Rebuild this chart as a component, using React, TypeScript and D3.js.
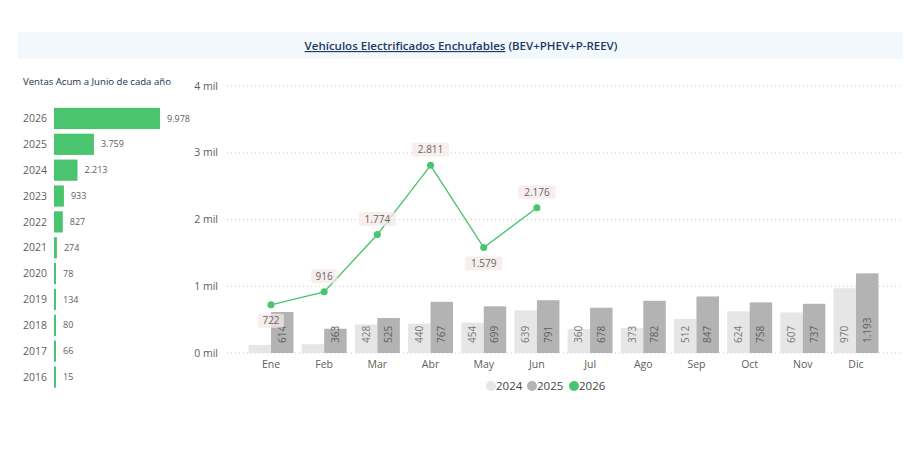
import React, { useEffect, useRef } from 'react';
import * as d3 from 'd3';

const months = ['Ene', 'Feb', 'Mar', 'Abr', 'May', 'Jun', 'Jul', 'Ago', 'Sep', 'Oct', 'Nov', 'Dic'];
const sales2024 = [121, 131, 428, 440, 454, 639, 360, 373, 512, 624, 607, 970];
const sales2025 = [614, 363, 525, 767, 699, 791, 678, 782, 847, 758, 737, 1193];
const sales2026 = [722, 916, 1774, 2811, 1579, 2176];
const yTicks = [0, 1000, 2000, 3000, 4000];

const accYears = ['2026', '2025', '2024', '2023', '2022', '2021', '2020', '2019', '2018', '2017', '2016'];
const accSales = [9978, 3759, 2213, 933, 827, 274, 78, 134, 80, 66, 15];

const legendItems = ['2024', '2025', '2026'];
const colors = ['#e6e6e6', '#b3b3b3', '#4ac46e'];

const FONT = '"Open Sans", "Noto Sans", sans-serif';

const App: React.FC = () => {
  const svgRef = useRef<SVGSVGElement>(null);

  useEffect(() => {
    if (!svgRef.current) return;
    const svg = d3.select(svgRef.current);
    svg.selectAll('*').remove();

    const es = d3.formatLocale({ decimal: ',', thousands: '.', grouping: [3], currency: ['', '€'] });
    const fmt = es.format(',d');

    // title band
    svg.append('rect')
      .attr('x', 18).attr('y', 32).attr('width', 885).attr('height', 27)
      .attr('fill', '#f3f8fc');
    const title = svg.append('text')
      .attr('x', 461).attr('y', 50)
      .attr('text-anchor', 'middle')
      .attr('font-family', FONT)
      .attr('font-size', 11.5)
      .attr('font-weight', 600)
      .attr('fill', '#1c3a66');
    title.append('tspan').attr('text-decoration', 'underline').text('Vehículos Electrificados Enchufables');
    title.append('tspan').text(' (BEV+PHEV+P-REEV)');

    // left chart: accumulated sales
    svg.append('text')
      .attr('x', 23).attr('y', 85)
      .attr('font-family', FONT).attr('font-size', 9.6)
      .attr('font-weight', 500)
      .attr('fill', '#1a3150')
      .text('Ventas Acum a Junio de cada año');

    const yAcc = d3.scaleBand<string>().domain(accYears).range([105.5, 390]).paddingInner(0.18).paddingOuter(0.09);
    const xAcc = d3.scaleLinear().domain([0, d3.max(accSales) || 0]).range([54, 160]);

    const left = svg.append('g');
    left.selectAll('rect')
      .data(accYears)
      .enter()
      .append('rect')
      .attr('x', xAcc(0))
      .attr('y', d => yAcc(d) || 0)
      .attr('height', yAcc.bandwidth())
      .attr('width', (_d, i) => Math.max(xAcc(accSales[i]) - xAcc(0), 2))
      .attr('fill', colors[2]);
    left.selectAll('text.yr')
      .data(accYears)
      .enter()
      .append('text')
      .attr('class', 'yr')
      .attr('x', 47)
      .attr('y', d => (yAcc(d) || 0) + yAcc.bandwidth() / 2)
      .attr('dy', '0.35em')
      .attr('text-anchor', 'end')
      .attr('font-family', FONT).attr('font-size', 10.5)
      .attr('fill', '#605e5c')
      .text(d => d);
    left.selectAll('text.val')
      .data(accYears)
      .enter()
      .append('text')
      .attr('class', 'val')
      .attr('x', (_d, i) => xAcc(0) + Math.max(xAcc(accSales[i]) - xAcc(0), 2) + 7)
      .attr('y', d => (yAcc(d) || 0) + yAcc.bandwidth() / 2)
      .attr('dy', '0.35em')
      .attr('font-family', FONT).attr('font-size', 9)
      .attr('fill', '#605e5c')
      .text((_d, i) => fmt(accSales[i]));

    // main chart
    const x = d3.scaleBand<string>().domain(months).range([244.4, 882.6]).paddingInner(0.154).paddingOuter(0.077);
    const xSub = d3.scaleBand<string>().domain(['2024', '2025']).range([0, x.bandwidth()]);
    const y = d3.scaleLinear().domain([0, 4000]).range([353, 86]);

    const main = svg.append('g');
    main.selectAll('line.grid')
      .data(yTicks)
      .enter()
      .append('line')
      .attr('class', 'grid')
      .attr('x1', 227).attr('x2', 903)
      .attr('y1', d => y(d)).attr('y2', d => y(d))
      .attr('stroke', '#c8c8c8')
      .attr('stroke-width', 1)
      .attr('stroke-dasharray', '1,3');
    main.selectAll('text.ytick')
      .data(yTicks)
      .enter()
      .append('text')
      .attr('class', 'ytick')
      .attr('x', 218)
      .attr('y', d => y(d))
      .attr('dy', '0.35em')
      .attr('text-anchor', 'end')
      .attr('font-family', FONT).attr('font-size', 10.5)
      .attr('fill', '#605e5c')
      .text(d => `${d / 1000} mil`);

    const series = [
      { key: '2024', values: sales2024, color: colors[0], label: '#777777' },
      { key: '2025', values: sales2025, color: colors[1], label: '#5f5f5f' },
    ];
    series.forEach(s => {
      const g = main.append('g');
      g.selectAll('rect')
        .data(months)
        .enter()
        .append('rect')
        .attr('x', d => (x(d) || 0) + (xSub(s.key) || 0))
        .attr('width', xSub.bandwidth())
        .attr('y', (_d, i) => y(s.values[i]))
        .attr('height', (_d, i) => y(0) - y(s.values[i]))
        .attr('fill', s.color);
      g.selectAll('text')
        .data(months)
        .enter()
        .filter((_d, i) => y(0) - y(s.values[i]) > 20)
        .append('text')
        .attr('transform', d => {
          const cx = (x(d) || 0) + (xSub(s.key) || 0) + xSub.bandwidth() / 2;
          return `translate(${cx},${y(0) - 10}) rotate(-90)`;
        })
        .attr('dy', '0.35em')
        .attr('font-family', FONT).attr('font-size', 10)
        .attr('fill', s.label)
        .text(d => fmt(s.values[months.indexOf(d)]));
    });

    // 2026 line
    const m26 = months.slice(0, sales2026.length);
    const cx = (d: string) => (x(d) || 0) + x.bandwidth() / 2;
    const line = d3.line<number>()
      .x((_d, i) => cx(m26[i]))
      .y(d => y(d));
    main.append('path')
      .datum(sales2026)
      .attr('d', line)
      .attr('fill', 'none')
      .attr('stroke', colors[2])
      .attr('stroke-width', 1.4);
    main.selectAll('circle.pt')
      .data(sales2026)
      .enter()
      .append('circle')
      .attr('class', 'pt')
      .attr('cx', (_d, i) => cx(m26[i]))
      .attr('cy', d => y(d))
      .attr('r', 3.5)
      .attr('fill', colors[2]);

    const below = [true, false, false, false, true, false];
    sales2026.forEach((v, i) => {
      const lx = cx(m26[i]);
      const ly = y(v) + (below[i] ? 16 : -15.5);
      const lg = main.append('g').attr('transform', `translate(${lx},${ly})`);
      const txt = fmt(v);
      const w = txt.length * 5.6 + 9;
      lg.append('rect')
        .attr('x', -w / 2).attr('y', -7)
        .attr('width', w).attr('height', 14)
        .attr('rx', 2)
        .attr('fill', '#f7e8e8')
        .attr('fill-opacity', 0.75);
      lg.append('text')
        .attr('text-anchor', 'middle')
        .attr('dy', '0.35em')
        .attr('font-family', FONT).attr('font-size', 10)
        .attr('fill', '#666666')
        .text(txt);
    });

    // x axis labels
    main.selectAll('text.xlab')
      .data(months)
      .enter()
      .append('text')
      .attr('class', 'xlab')
      .attr('x', d => cx(d))
      .attr('y', 364)
      .attr('dy', '0.35em')
      .attr('text-anchor', 'middle')
      .attr('font-family', FONT).attr('font-size', 10.5)
      .attr('fill', '#605e5c')
      .text(d => d);

    // legend
    const legendX = [491, 532, 574];
    const lg = svg.append('g');
    legendItems.forEach((k, i) => {
      lg.append('circle')
        .attr('cx', legendX[i]).attr('cy', 386).attr('r', 5)
        .attr('fill', colors[i]);
      lg.append('text')
        .attr('x', legendX[i] + 5).attr('y', 386)
        .attr('dy', '0.35em')
        .attr('font-family', FONT).attr('font-size', 11.5)
        .attr('fill', '#444444')
        .text(k);
    });
  }, []);

  return (
    <svg
      ref={svgRef}
      width={912}
      height={454}
      style={{ position: 'absolute', left: 0, top: 0, background: '#ffffff' }}
    />
  );
};

export default App;
